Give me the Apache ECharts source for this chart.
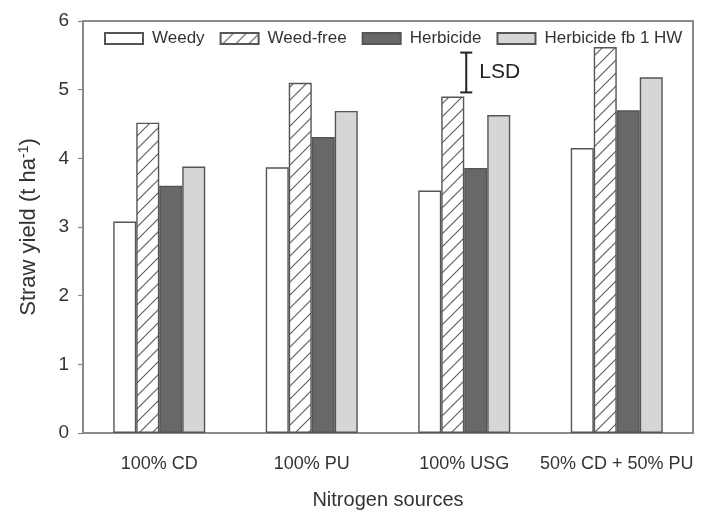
<!DOCTYPE html>
<html>
<head>
<meta charset="utf-8">
<script src="https://cdn.jsdelivr.net/npm/echarts@6/dist/echarts.min.js"></script>
<style>
  html, body { margin: 0; padding: 0; background: #fff; }
  #chart { width: 705px; height: 510px; }
</style>
</head>
<body>
<div id="chart"></div>
<script>
// Nitrogen source treatments on the x axis
const categories = ['100% CD', '100% PU', '100% USG', '50% CD + 50% PU'];
const seriesNames = ['Weedy', 'Weed-free', 'Herbicide', 'Herbicide fb 1 HW'];

// Straw yield (t/ha) per weed-control treatment
const weedy     = [3.08, 3.87, 3.53, 4.15];
const weedFree  = [4.52, 5.10, 4.90, 5.62];
const herbicide = [3.60, 4.31, 3.86, 4.70];
const herbHW    = [3.88, 4.69, 4.63, 5.18];

// LSD bar drawn over the third group: [low, high]
const lsdRange = [4.96, 5.54];
const lsdCategory = 2;

const yTicks = [0, 1, 2, 3, 4, 5, 6];

const FONT = '"Liberation Sans", Arial, sans-serif';
const EDGE = '#555';

// Diagonal hatch fill used for the weed-free bars
function hatchPattern() {
  const s = 13;
  const c = document.createElement('canvas');
  c.width = s; c.height = s;
  const g = c.getContext('2d');
  g.fillStyle = '#fff';
  g.fillRect(0, 0, s, s);
  g.strokeStyle = '#5a5a5a';
  g.lineWidth = 1.1;
  g.beginPath();
  g.moveTo(0, s); g.lineTo(s, 0);
  g.moveTo(-2, 2); g.lineTo(2, -2);
  g.moveTo(s - 2, s + 2); g.lineTo(s + 2, s - 2);
  g.stroke();
  return c;
}

const fills = [
  '#ffffff',
  { image: hatchPattern(), repeat: 'repeat' },
  '#686868',
  '#d6d6d6'
];
const values = [weedy, weedFree, herbicide, herbHW];

const barSeries = seriesNames.map((name, i) => ({
  name: name,
  type: 'bar',
  data: values[i],
  barWidth: 23,
  barGap: '0%',
  itemStyle: { color: fills[i], borderColor: EDGE, borderWidth: 1.4 },
  emphasis: { disabled: true }
}));

const lsdSeries = {
  type: 'custom',
  name: 'LSD',
  data: [[lsdCategory, lsdRange[0], lsdRange[1]]],
  silent: true,
  z: 5,
  renderItem: function (params, api) {
    const lo = api.coord([api.value(0), api.value(1)]);
    const hi = api.coord([api.value(0), api.value(2)]);
    const x = lo[0] + 2;
    const cap = 6;
    const style = { stroke: '#222', lineWidth: 2 };
    return {
      type: 'group',
      children: [
        { type: 'line', shape: { x1: x, y1: lo[1], x2: x, y2: hi[1] }, style: style },
        { type: 'line', shape: { x1: x - cap, y1: lo[1], x2: x + cap, y2: lo[1] }, style: style },
        { type: 'line', shape: { x1: x - cap, y1: hi[1], x2: x + cap, y2: hi[1] }, style: style },
        { type: 'text', style: {
            text: 'LSD', x: x + 13, y: (lo[1] + hi[1]) / 2,
            fill: '#222', font: '21px ' + FONT, verticalAlign: 'middle', align: 'left'
        } }
      ]
    };
  }
};

const chart = echarts.init(document.getElementById('chart'), null, { renderer: 'canvas' });
chart.setOption({
  animation: false,
  backgroundColor: '#fff',
  grid: {
    left: 83, right: 12, top: 21, bottom: 77,
    containLabel: false,
    outerBoundsMode: 'none',
    show: true, borderColor: '#8a8a8a', borderWidth: 2, backgroundColor: 'transparent'
  },
  legend: {
    data: seriesNames,
    left: 104, top: 30, padding: 0,
    itemWidth: 38, itemHeight: 11, itemGap: 15,
    selectedMode: false,
    icon: 'rect',
    textStyle: { fontFamily: FONT, fontSize: 17, color: '#333', padding: [0, 0, 0, 4] }
  },
  xAxis: {
    type: 'category',
    data: categories,
    name: 'Nitrogen sources',
    nameLocation: 'middle',
    nameGap: 57,
    nameTextStyle: { fontFamily: FONT, fontSize: 20, color: '#333' },
    axisLine: { lineStyle: { color: '#8a8a8a', width: 2 } },
    axisTick: { alignWithLabel: true, length: 7, lineStyle: { color: '#333', width: 1.2 } },
    axisLabel: { fontFamily: FONT, fontSize: 18, color: '#333', margin: 22, interval: 0 }
  },
  yAxis: {
    type: 'value',
    min: yTicks[0], max: yTicks[yTicks.length - 1], interval: 1,
    name: '{a|Straw yield (t ha}{s|-1}{a|)}',
    nameLocation: 'middle',
    nameGap: 42,
    nameTextStyle: {
      rich: {
        a: { fontFamily: FONT, fontSize: 22, color: '#333' },
        s: { fontFamily: FONT, fontSize: 14, color: '#333', verticalAlign: 'top', padding: [0, 0, 10, 0] }
      }
    },
    splitLine: { show: false },
    axisLine: { show: true, lineStyle: { color: '#8a8a8a', width: 2 } },
    axisTick: { show: true, length: 5, lineStyle: { color: '#8a8a8a', width: 1.2 } },
    axisLabel: { fontFamily: FONT, fontSize: 19, color: '#333', margin: 14 }
  },
  series: barSeries.concat([lsdSeries])
});
</script>
</body>
</html>
